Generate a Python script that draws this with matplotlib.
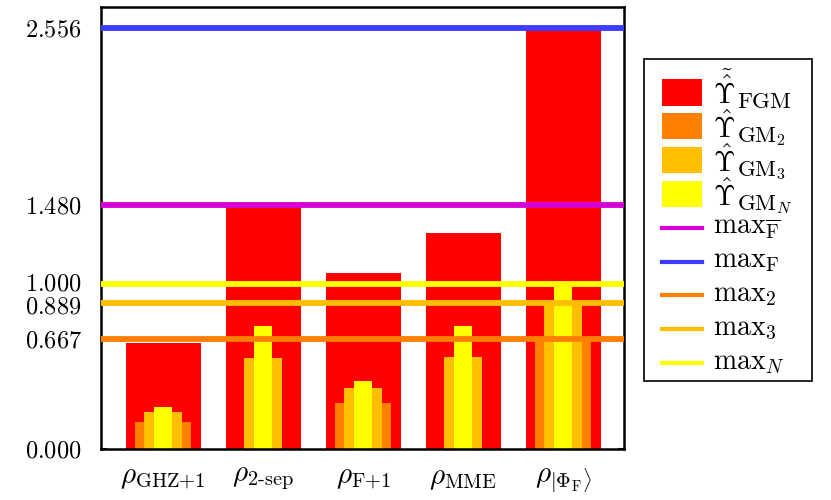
import matplotlib
matplotlib.use("Agg")
import matplotlib.pyplot as plt
from matplotlib.patches import Rectangle
from matplotlib.lines import Line2D
from matplotlib.transforms import ScaledTranslation
import numpy as np

plt.rcParams["mathtext.fontset"] = "cm"
plt.rcParams["font.family"] = ["cmr10", "DejaVu Serif"]
plt.rcParams["axes.unicode_minus"] = False

# --- data -------------------------------------------------------------
states = [r"$\rho_{\mathrm{GHZ}{+}1}$", r"$\rho_{2\text{-}\mathrm{sep}}$",
          r"$\rho_{\mathrm{F}{+}1}$", r"$\rho_{\mathrm{MME}}$",
          r"$\rho_{|\Phi_{\mathrm{F}}\rangle}$"]
ups_fgm = [0.642, 1.47, 1.067, 1.31, 2.55]
ups_gm2 = [0.166, 0.0, 0.277, 0.0, 0.667]
ups_gm3 = [0.225, 0.553, 0.372, 0.557, 0.889]
ups_gmn = [0.253, 0.747, 0.415, 0.747, 1.0]
ups_symbols = [r"$\tilde{\hat{\Upsilon}}$", r"$\hat{\Upsilon}$",
               r"$\hat{\Upsilon}$", r"$\hat{\Upsilon}$"]
ups_subs = [r"$\mathrm{FGM}$", r"$\mathrm{GM}_2$", r"$\mathrm{GM}_3$", r"$\mathrm{GM}_N$"]

bound_vals = [1.480, 2.556, 0.667, 0.889, 1.000]
bound_labels = [r"$\mathrm{max}_{\overline{\mathrm{F}}}$", r"$\mathrm{max}_{\mathrm{F}}$",
                r"$\mathrm{max}_{2}$", r"$\mathrm{max}_{3}$", r"$\mathrm{max}_{N}$"]
bound_colors = ["#d600d6", "#3c3cff", "#ff7f00", "#ffbf00", "#ffff00"]

yticks = [0.000, 0.667, 0.889, 1.000, 1.480, 2.556]

# --- plot -------------------------------------------------------------
W, H = 831, 500
fig = plt.figure(figsize=(W / 100, H / 100), dpi=100)
ax = fig.add_axes([101 / W, 51 / H, 523 / W, 442 / H])

x = np.arange(1, len(states) + 1)
bar_series = [ups_fgm, ups_gm2, ups_gm3, ups_gmn]
bar_widths = [0.75, 0.5625, 0.375, 0.1875]
bar_colors = ["#ff0000", "#ff7f00", "#ffbf00", "#ffff00"]
for vals, w, c in zip(bar_series, bar_widths, bar_colors):
    ax.bar(x, vals, width=w, color=c, edgecolor="none", zorder=2)

for v, c in zip(bound_vals, bound_colors):
    ax.axhline(v, color=c, lw=4.2, zorder=3)

ax.set_xlim(0.38, 5.61)
ax.set_ylim(0, 2.684)
ax.set_xticks(x)
ax.set_xticklabels(states, fontsize=21)
ax.set_yticks(yticks)
ax.set_yticklabels([f"${v:.3f}$" for v in yticks], fontsize=17.5)
ax.tick_params(axis="y", direction="in", length=4, width=1.5, right=True, pad=14)
ax.tick_params(axis="x", direction="in", length=4, width=1.5, pad=12)
for s in ax.spines.values():
    s.set_linewidth(1.8)

# the 0.889 / 1.000 labels sit very close: nudge them apart a little
ticks = ax.yaxis.get_major_ticks()
for idx, dy in [(2, -2.0), (3, 2.0)]:
    lab = ticks[idx].label1
    lab.set_transform(lab.get_transform() + ScaledTranslation(0, dy / 72, fig.dpi_scale_trans))

# --- legend, laid out by hand so rows are evenly spaced ---------------
def fx(px):
    return px / W

def fy(py):
    return 1 - py / H

fig.add_artist(Rectangle((fx(644), fy(381)), fx(812) - fx(644), fy(59) - fy(381),
                         transform=fig.transFigure, fill=False, ec="black", lw=1.2))
row0, step = 92.5, 33.8
for i, (c, sym, sub) in enumerate(zip(bar_colors, ups_symbols, ups_subs)):
    yc = row0 + i * step
    fig.add_artist(Rectangle((fx(662), fy(yc + 13)), fx(702) - fx(662), 26 / H,
                             transform=fig.transFigure, color=c, lw=0))
    fig.text(fx(713), fy(yc + 12), sym, fontsize=20, va="baseline", ha="left")
    fig.text(fx(737), fy(yc + 16), sub, fontsize=16.5, va="baseline", ha="left")
for j, (c, lab) in enumerate(zip(bound_colors, bound_labels)):
    yc = row0 + (j + 4) * step
    fig.add_artist(Line2D([fx(662), fx(702)], [fy(yc), fy(yc)],
                          transform=fig.transFigure, color=c, lw=3))
    fig.text(fx(713), fy(yc + 6), lab, fontsize=20, va="baseline", ha="left")

fig.savefig("out.png", dpi=100)
